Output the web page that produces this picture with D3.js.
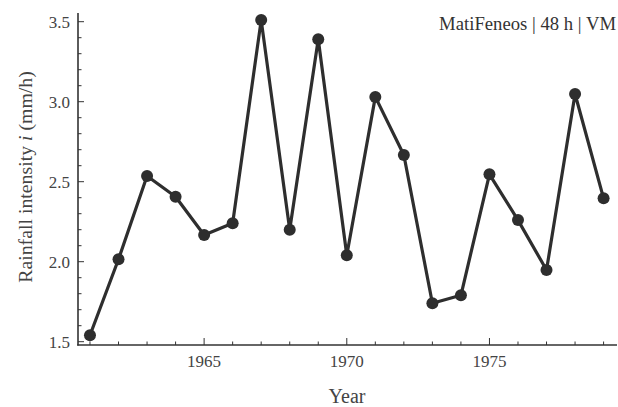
<!DOCTYPE html>
<html><head><meta charset="utf-8">
<script src="https://cdn.jsdelivr.net/npm/d3@7"></script>
<style>body{margin:0;background:#fff}svg{display:block}</style>
</head><body><svg id="c" width="618" height="407"></svg>
<script>
const years = [1961,1962,1963,1964,1965,1966,1967,1968,1969,1970,1971,1972,1973,1974,1975,1976,1977,1978,1979];
const intensity = [1.54,2.015,2.536,2.406,2.167,2.24,3.51,2.20,3.39,2.04,3.03,2.667,1.74,1.79,2.546,2.26,1.948,3.048,2.396];
const xTicks = [1965,1970,1975];
const yTicks = [1.5,2.0,2.5,3.0,3.5];
const title = "MatiFeneos | 48 h | VM";

const FONT = "'Liberation Serif', 'Times New Roman', serif";
const svg = d3.select("#c");
const x = d3.scaleLinear().domain([1960.58,1979.47]).range([78,617]);
const y = d3.scaleLinear().domain([1.5,3.5]).range([341.7,21.7]);
const axisColor = "#333";
const textColor = "#444";

const g = svg.append("g");
g.append("line").attr("x1",78).attr("x2",78).attr("y1",y(3.555)).attr("y2",345.5).attr("stroke",axisColor).attr("stroke-width",1.6);
g.append("line").attr("x1",77.2).attr("x2",617).attr("y1",345).attr("y2",345).attr("stroke",axisColor).attr("stroke-width",1.6);

// y ticks
const yMinor = d3.range(15,36).map(d=>d/10);
g.selectAll(".ytm").data(yMinor).enter().append("line")
  .attr("x1",78).attr("x2",d=>yTicks.some(t=>Math.abs(t-d)<1e-6)?84:81.5)
  .attr("y1",d=>y(d)).attr("y2",d=>y(d)).attr("stroke",axisColor).attr("stroke-width",1);
g.selectAll(".ytl").data(yTicks).enter().append("text")
  .attr("x",70).attr("y",d=>y(d)+6).attr("text-anchor","end")
  .attr("font-family",FONT).attr("font-size",17).attr("fill",textColor).text(d=>d.toFixed(1));

// x ticks
const xMinor = d3.range(1961,1980);
g.selectAll(".xtm").data(xMinor).enter().append("line")
  .attr("x1",d=>x(d)).attr("x2",d=>x(d)).attr("y1",345).attr("y2",d=>xTicks.includes(d)?338:341.5)
  .attr("stroke",axisColor).attr("stroke-width",1);
g.selectAll(".xtl").data(xTicks).enter().append("text")
  .attr("x",d=>x(d)).attr("y",367).attr("text-anchor","middle")
  .attr("font-family",FONT).attr("font-size",17).attr("fill",textColor).text(d=>d);

// axis titles
svg.append("text").attr("x",347).attr("y",403).attr("text-anchor","middle")
  .attr("font-family",FONT).attr("font-size",20).attr("fill",textColor).text("Year");
const yt = svg.append("text").attr("transform","translate(32,177) rotate(-90)").attr("text-anchor","middle")
  .attr("font-family",FONT).attr("font-size",19.8).attr("fill",textColor);
yt.append("tspan").text("Rainfall intensity ");
yt.append("tspan").attr("font-style","italic").text("i");
yt.append("tspan").text(" (mm/h)");

// title
svg.append("text").attr("x",616).attr("y",30).attr("text-anchor","end")
  .attr("font-family",FONT).attr("font-size",18.7).attr("fill","#333").text(title);

// data
const data = years.map((yr,i)=>({yr, v:intensity[i]}));
svg.append("path").datum(data)
  .attr("d",d3.line().x(d=>x(d.yr)).y(d=>y(d.v)))
  .attr("fill","none").attr("stroke","#2e2e2e").attr("stroke-width",3.2).attr("stroke-linejoin","round");
svg.selectAll(".pt").data(data).enter().append("circle")
  .attr("cx",d=>x(d.yr)).attr("cy",d=>y(d.v)).attr("r",6).attr("fill","#2e2e2e");
</script></body></html>
